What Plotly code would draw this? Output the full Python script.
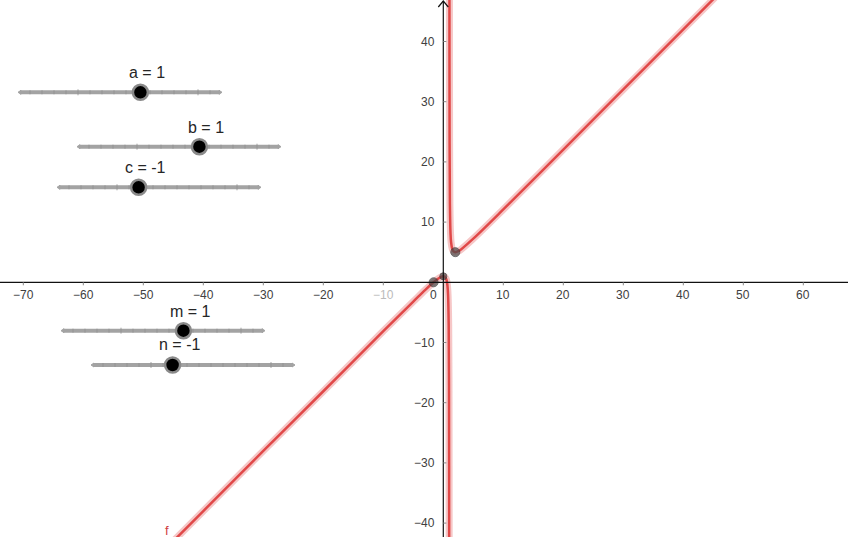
import plotly.graph_objects as go

# curve f(x) = (a x^2 + b x + c) / (m x + n)
left_x = [-48, -40, -30, -20, -10, -5, -3, -1.62, -1, -0.5, 0, 0.3, 0.5, 0.6, 0.7, 0.8, 0.9, 0.95, 0.97, 0.98]
left_y = [-46.0, -38.0, -28.0, -18.1, -8.1, -3.2, -1.25, 0, 0.5, 0.83, 1, 0.87, 0.5, 0.1, -0.63, -2.2, -7.1, -17.05, -30.4, -47.0]
right_x = [1.02, 1.03, 1.05, 1.1, 1.2, 1.3, 1.5, 1.7, 2, 2.5, 3, 5, 10, 20, 30, 40, 48]
right_y = [53.0, 36.4, 23.05, 13.1, 8.2, 6.63, 5.5, 5.13, 5, 5.17, 5.5, 7.25, 12.1, 22.05, 32.03, 42.03, 50.02]

# marked points: root, local max, local min
pt_x = [-1.62, 0, 2]
pt_y = [0, 1, 5]

# slider values (range -5 .. 5)
slider_names = ["a", "b", "c", "m", "n"]
slider_values = [1, 1, -1, 1, -1]

x_ticks = [-70, -60, -50, -40, -30, -20, -10, 10, 20, 30, 40, 50, 60]
y_ticks = [-40, -30, -20, -10, 10, 20, 30, 40]

W, H = 848, 537
OX, OY = 443.3, 282.3  # pixel position of the origin
SX, SY = 6.0, 6.02     # pixels per unit


def px2x(px):
    return (px - OX) / SX


def py2y(py):
    return (OY - py) / SY


fig = go.Figure()

# sliders: left pixel, pixel y of bar, pixel y of label
slider_pos = [(18, 92.3, 72), (77, 146.7, 127), (57, 187.3, 167), (61, 330.7, 311), (91, 365, 344)]
SL = 204
shapes = []
annotations = []
knob_x, knob_y = [], []
for name, val, (lx, by, ty) in zip(slider_names, slider_values, slider_pos):
    shapes.append(dict(type="line", xref="x", yref="y", x0=px2x(lx + 2), x1=px2x(lx + SL - 2),
                       y0=py2y(by), y1=py2y(by), line=dict(color="#a3a3a3", width=4), layer="below"))
    shapes.append(dict(type="path", xref="x", yref="y",
                       path=f"M {px2x(lx)},{py2y(by)} L {px2x(lx + 3)},{py2y(by - 2)} L {px2x(lx + 3)},{py2y(by + 2)} Z "
                            f"M {px2x(lx + SL)},{py2y(by)} L {px2x(lx + SL - 3)},{py2y(by - 2)} L {px2x(lx + SL - 3)},{py2y(by + 2)} Z",
                       fillcolor="#a3a3a3", line=dict(color="#a3a3a3", width=1), layer="below"))
    for k in range(1, 17):
        tx = lx + k * SL / 17
        big = k in (5, 15)
        shapes.append(dict(type="line", xref="x", yref="y", x0=px2x(tx), x1=px2x(tx),
                           y0=py2y(by - (3 if big else 2)), y1=py2y(by + (3 if big else 2)),
                           line=dict(color="#8f8f8f", width=0.8), layer="below"))
    kx = lx + (val + 5) / 10 * SL
    knob_x.append(px2x(kx))
    knob_y.append(py2y(by))
    label = f"{name} = {val}"
    annotations.append(dict(x=px2x(kx + 7), y=py2y(ty), xref="x", yref="y", text=label, showarrow=False,
                            font=dict(family="Liberation Sans", size=16, color="#262626"),
                            xanchor="center", yanchor="middle"))

# axes
shapes.append(dict(type="line", xref="x", yref="y", x0=px2x(0), x1=px2x(W), y0=0, y1=0,
                   line=dict(color="#111111", width=1.2)))
shapes.append(dict(type="line", xref="x", yref="y", x0=0, x1=0, y0=py2y(H), y1=py2y(1),
                   line=dict(color="#111111", width=1.2)))
shapes.append(dict(type="path", xref="x", yref="y",
                   path=f"M {px2x(OX - 5)},{py2y(7)} L 0,{py2y(1)} L {px2x(OX + 5)},{py2y(7)}",
                   line=dict(color="#111111", width=1.2)))

for t in x_ticks:
    col = "#bbbbbb" if t == -10 else "#404040"
    annotations.append(dict(x=t, y=py2y(294.5), xref="x", yref="y", text=f"\u2212{-t}" if t < 0 else str(t),
                            showarrow=False, font=dict(family="Liberation Sans", size=12, color=col),
                            xanchor="center", yanchor="middle"))
    shapes.append(dict(type="line", xref="x", yref="y", x0=t, x1=t, y0=0, y1=py2y(OY + 3),
                       line=dict(color="#888888", width=1)))
for t in y_ticks:
    annotations.append(dict(x=px2x(437), y=t, xref="x", yref="y", text=f"\u2212{-t}" if t < 0 else str(t),
                            showarrow=False, font=dict(family="Liberation Sans", size=12, color="#404040"),
                            xanchor="right", yanchor="middle"))
    shapes.append(dict(type="line", xref="x", yref="y", x0=0, x1=px2x(OX + 3), y0=t, y1=t,
                       line=dict(color="#888888", width=1)))
annotations.append(dict(x=px2x(433), y=py2y(294.5), xref="x", yref="y", text="0", showarrow=False,
                        font=dict(family="Liberation Sans", size=12, color="#404040"),
                        xanchor="center", yanchor="middle"))
annotations.append(dict(x=px2x(167), y=py2y(530), xref="x", yref="y", text="f", showarrow=False,
                        font=dict(family="Liberation Sans", size=13, color="#d04040"),
                        xanchor="center", yanchor="middle"))

# curve: halo then core line
for bx, by_ in [(left_x, left_y), (right_x, right_y)]:
    fig.add_trace(go.Scatter(x=bx, y=by_, mode="lines", line=dict(color="rgba(236,130,130,0.45)", width=7, shape="spline"),
                             hoverinfo="skip", showlegend=False))
    fig.add_trace(go.Scatter(x=bx, y=by_, mode="lines", line=dict(color="#e04848", width=2.5, shape="spline"),
                             showlegend=False))

fig.add_trace(go.Scatter(x=pt_x, y=pt_y, mode="markers",
                         marker=dict(size=[9, 7, 9], color="#4a4a4a", line=dict(color="#333333", width=1)),
                         showlegend=False))

fig.add_trace(go.Scatter(x=knob_x, y=knob_y, mode="markers",
                         marker=dict(size=15, color="#000000", line=dict(color="#8a8a8a", width=2.5)),
                         showlegend=False))

fig.update_layout(
    width=W, height=H,
    margin=dict(l=0, r=0, t=0, b=0),
    paper_bgcolor="white", plot_bgcolor="white",
    xaxis=dict(range=[px2x(0), px2x(W)], visible=False, fixedrange=True),
    yaxis=dict(range=[py2y(H), py2y(0)], visible=False, fixedrange=True),
    shapes=shapes, annotations=annotations,
    showlegend=False,
)

fig.write_html("out.html", config={"displayModeBar": False},
               post_script="document.body.style.margin='0';document.body.style.overflow='hidden';")
